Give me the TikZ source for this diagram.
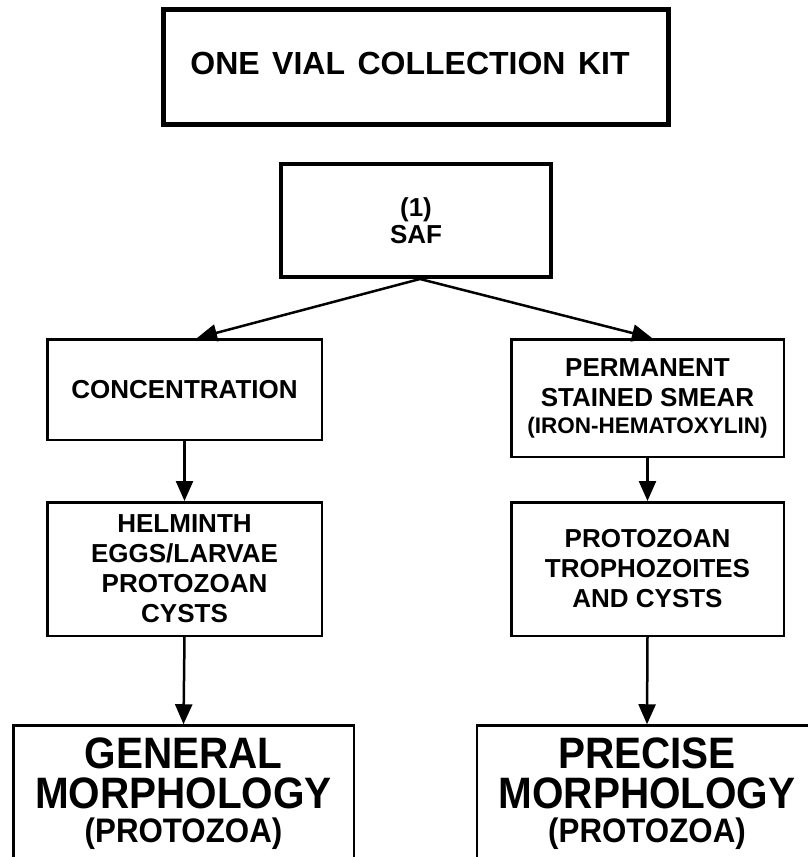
\documentclass[tikz,border=0pt]{standalone}
\usepackage{fontspec}
\setmainfont{Liberation Sans}
\usetikzlibrary{arrows.meta}
\begin{document}
\begin{tikzpicture}[x=1pt,y=-1pt,
  box/.style={draw, line width=2.5pt, inner sep=0pt, align=center,
    font=\bfseries\fontsize{26}{30}\selectfont},
  bigtxt/.style={inner sep=0pt, anchor=base, font=\bfseries\fontsize{44}{44}\selectfont, xscale=0.92, transform shape},
  midtxt/.style={inner sep=0pt, anchor=base, font=\bfseries\fontsize{34}{34}\selectfont, xscale=0.92, transform shape},
  arr/.style={line width=2.5pt, -{Triangle[length=20pt,width=17pt]}},
]
\clip (0,0) rectangle (808,857);
\fill[white] (0,0) rectangle (808,857);

\node[box, line width=5pt, minimum width=505pt, minimum height=115pt,
  font=\bfseries\fontsize{32}{36}\selectfont] (kit) at (416,67)
  {\raisebox{8pt}{ONE\hskip 12.5pt VIAL\hskip 12.5pt COLLECTION\hskip 12.5pt KIT\hskip 12pt}};

\node[box, line width=4pt, minimum width=270pt, minimum height=113pt] (saf) at (416,220.5)
  {(1)\\[-3pt]SAF};

\node[box, minimum width=274.5pt, minimum height=100.5pt] (conc) at (184.5,389.5)
  {CONCENTRATION};
\node[box, minimum width=274.5pt, minimum height=133.5pt] (helm) at (184.5,569)
  {HELMINTH\\EGGS/LARVAE\\PROTOZOAN\\CYSTS};

\node[box, minimum width=272.5pt, minimum height=117.5pt] (perm) at (647.5,398)
  {PERMANENT\\STAINED SMEAR\\[-3pt]{\fontsize{22.5}{24}\selectfont (IRON-HEMATOXYLIN)}};
\node[box, minimum width=272.5pt, minimum height=133.5pt] (prot) at (647.5,569)
  {PROTOZOAN\\TROPHOZOITES\\AND CYSTS};

\node[draw, line width=2.5pt, minimum width=340.5pt, minimum height=240pt, anchor=north] (gen) at (183.5,724.25) {};
\node[draw, line width=2.5pt, minimum width=340.5pt, minimum height=240pt, anchor=north] (pre) at (647,724.25) {};

\node[bigtxt] (g1) at (183.5,768) {GENERAL};
\node[bigtxt] (g2) at (183.5,808) {MORPHOLOGY};
\node[midtxt] (g3) at (183.5,842) {(PROTOZOA)};
\node[bigtxt] (p1) at (647,768) {PRECISE};
\node[bigtxt] (p2) at (647,808) {MORPHOLOGY};
\node[midtxt] (p3) at (647,842) {(PROTOZOA)};

\draw[arr] ([xshift=4pt]saf.south) -- ([xshift=12.5pt]conc.north);
\draw[arr] ([xshift=4pt]saf.south) -- ([xshift=4.5pt]perm.north);
\draw[arr] (conc.south) -- (helm.north);
\draw[arr] (perm.south) -- (prot.north);
\draw[arr] (helm.south) -- (gen.north);
\draw[arr] (prot.south) -- (pre.north);
\end{tikzpicture}
\end{document}
